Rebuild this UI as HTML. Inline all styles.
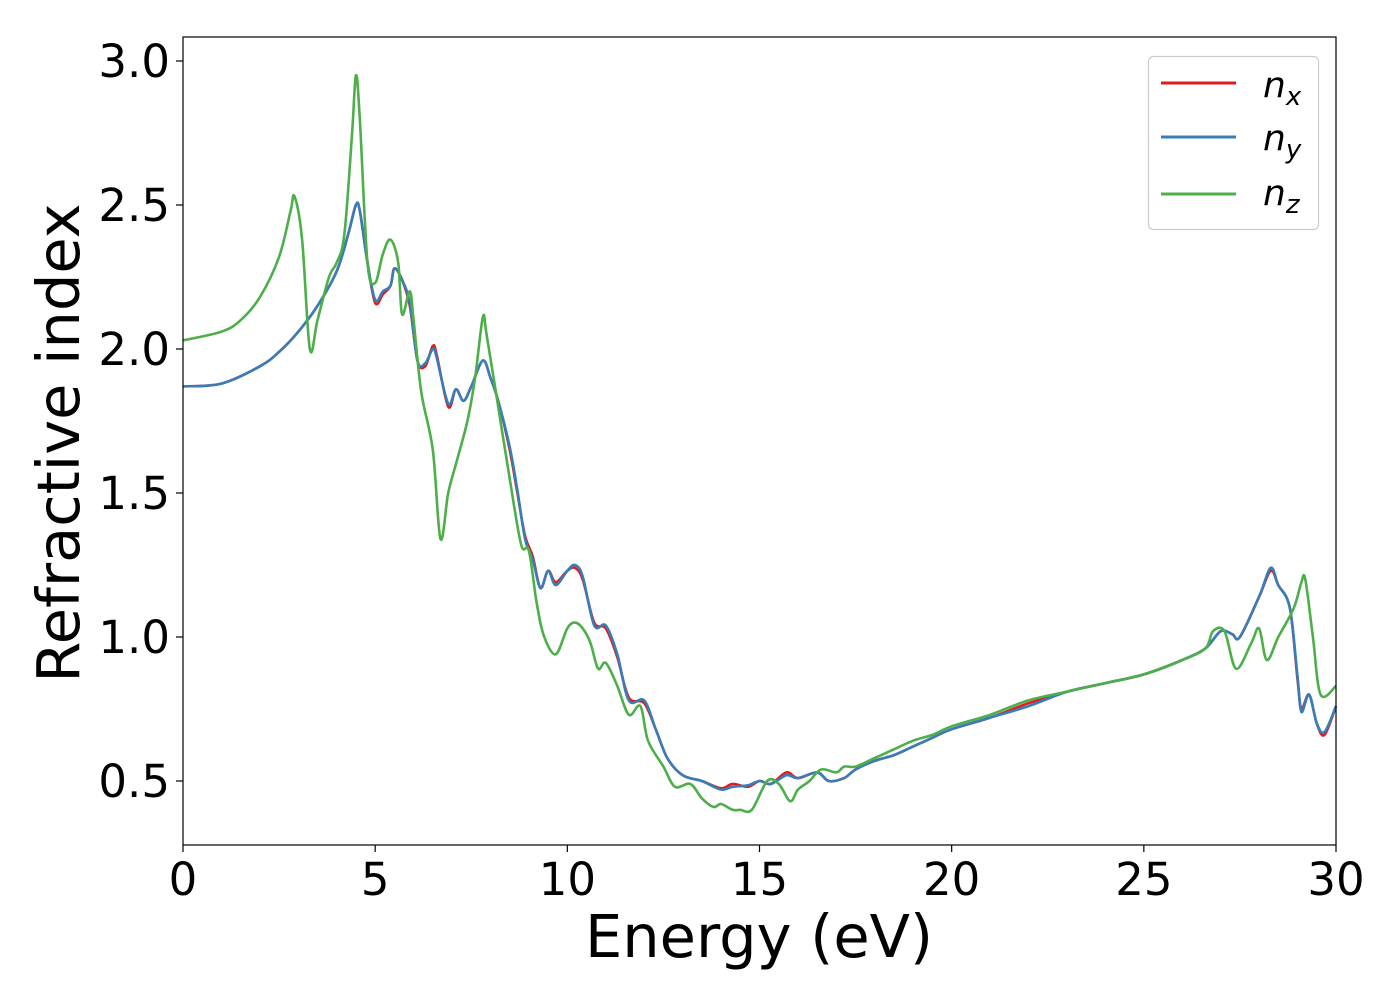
<!DOCTYPE html>
<html><head><meta charset="utf-8"><style>
html,body{margin:0;padding:0;background:#fff;}
svg{display:block;font-family:"DejaVu Sans","Liberation Sans",sans-serif;}
</style></head><body>
<svg id="chart" width="1400" height="1000" viewBox="0 0 1400 1000" xmlns="http://www.w3.org/2000/svg">
<rect width="1400" height="1000" fill="#fff"/>
<g id="ticks"></g>
<g id="series"></g>
<rect x="183" y="37" width="1153" height="808" fill="none" stroke="#000" stroke-width="1.2"/>
<text x="759" y="957" font-size="59" text-anchor="middle">Energy (eV)</text>
<text transform="translate(79,443) rotate(-90)" font-size="59" text-anchor="middle">Refractive index</text>
<g>
<rect x="1148.5" y="56.5" width="170" height="173" rx="5" fill="#fff" stroke="#ccc" stroke-width="1.2"/>
<line x1="1161" y1="83" x2="1236" y2="83" stroke="#e41a1c" stroke-width="3"/>
<line x1="1161" y1="137" x2="1236" y2="137" stroke="#377eb8" stroke-width="3"/>
<line x1="1161" y1="194" x2="1236" y2="194" stroke="#4daf4a" stroke-width="3"/>
<text x="1263" y="97" font-size="36" font-style="italic">n<tspan font-size="26" dy="8">x</tspan></text>
<text x="1263" y="150" font-size="36" font-style="italic">n<tspan font-size="26" dy="8">y</tspan></text>
<text x="1263" y="205" font-size="36" font-style="italic">n<tspan font-size="26" dy="8">z</tspan></text>
</g>
</svg>
<script>
const xTicks=[0,5,10,15,20,25,30];
const yTicks=[0.5,1.0,1.5,2.0,2.5,3.0];
const nxE=[0,1,2,2.5,3,3.5,4,4.3,4.5,4.6,4.8,5.0,5.2,5.4,5.5,5.7,5.9,6.1,6.3,6.5,6.6,6.9,7.1,7.3,7.5,7.8,8.0,8.2,8.5,8.7,8.9,9.1,9.3,9.5,9.7,10.0,10.2,10.4,10.7,11.0,11.3,11.6,12.0,12.3,12.6,13.0,13.5,14,14.3,14.7,15,15.3,15.7,16,16.5,16.8,17.2,17.5,18,18.5,19,19.5,20,21,22,23,24,25,26,26.6,27,27.3,27.5,28,28.3,28.5,28.8,29,29.1,29.3,29.5,29.7,30];
const nxV=[1.87,1.88,1.94,1.99,2.06,2.15,2.27,2.4,2.5,2.48,2.3,2.16,2.19,2.22,2.28,2.24,2.15,1.96,1.94,2.01,1.98,1.80,1.86,1.82,1.87,1.96,1.90,1.82,1.65,1.50,1.35,1.28,1.17,1.23,1.19,1.23,1.24,1.20,1.05,1.03,0.93,0.79,0.77,0.68,0.58,0.52,0.50,0.475,0.49,0.48,0.50,0.49,0.53,0.51,0.53,0.50,0.51,0.54,0.57,0.59,0.62,0.65,0.68,0.72,0.77,0.81,0.84,0.87,0.92,0.96,1.02,1.01,1.00,1.14,1.23,1.18,1.10,0.85,0.75,0.80,0.70,0.66,0.76];
const nyV=[1.87,1.88,1.94,1.99,2.06,2.15,2.27,2.4,2.5,2.48,2.3,2.17,2.2,2.22,2.28,2.24,2.16,1.96,1.95,2.0,1.97,1.81,1.86,1.82,1.87,1.96,1.90,1.82,1.66,1.51,1.34,1.27,1.17,1.23,1.18,1.23,1.25,1.21,1.04,1.04,0.94,0.78,0.78,0.68,0.58,0.52,0.50,0.47,0.48,0.485,0.50,0.49,0.52,0.51,0.53,0.50,0.51,0.54,0.57,0.59,0.62,0.65,0.68,0.72,0.76,0.81,0.84,0.87,0.92,0.96,1.02,1.01,1.00,1.14,1.24,1.18,1.10,0.86,0.74,0.80,0.70,0.67,0.76];
const nzE=[0,1,1.5,2,2.5,2.8,2.9,3.1,3.3,3.5,3.8,4.0,4.2,4.4,4.5,4.6,4.8,5.0,5.2,5.4,5.6,5.7,5.9,6.0,6.2,6.5,6.7,6.9,7.1,7.4,7.6,7.8,7.9,8.2,8.5,8.8,9.0,9.2,9.4,9.7,10.0,10.2,10.4,10.6,10.8,11.0,11.3,11.6,11.9,12.1,12.5,12.8,13.2,13.5,13.8,14.0,14.3,14.5,14.8,15.2,15.5,15.8,16,16.3,16.6,17,17.2,17.5,18,18.5,19,19.5,20,21,22,23,24,25,26,26.6,26.8,27.1,27.4,27.8,28,28.2,28.5,28.9,29.1,29.2,29.4,29.6,30];
const nzV=[2.03,2.06,2.10,2.18,2.32,2.48,2.53,2.38,2.0,2.1,2.25,2.30,2.40,2.75,2.95,2.80,2.30,2.23,2.33,2.38,2.30,2.12,2.20,2.10,1.85,1.65,1.34,1.50,1.60,1.75,1.90,2.11,2.05,1.80,1.55,1.32,1.30,1.12,1.00,0.94,1.03,1.05,1.03,0.98,0.89,0.91,0.83,0.73,0.76,0.64,0.55,0.48,0.49,0.44,0.41,0.42,0.40,0.40,0.40,0.50,0.49,0.43,0.47,0.50,0.54,0.53,0.55,0.55,0.58,0.61,0.64,0.66,0.69,0.73,0.78,0.81,0.84,0.87,0.92,0.96,1.02,1.02,0.89,0.98,1.03,0.92,1.00,1.10,1.19,1.20,1.00,0.80,0.83];

const NS="http://www.w3.org/2000/svg";
function xs(v){return 183+v*(1153/30);}
function ys(v){return 781-(v-0.5)*288;}
const tg=document.getElementById('ticks');
xTicks.forEach(t=>{
  const l=document.createElementNS(NS,'line');
  l.setAttribute('x1',xs(t));l.setAttribute('x2',xs(t));l.setAttribute('y1',845);l.setAttribute('y2',852);
  l.setAttribute('stroke','#000');l.setAttribute('stroke-width','1.2');
  
  
  tg.appendChild(l);
  const tx=document.createElementNS(NS,'text');
  tx.setAttribute('x',xs(t));tx.setAttribute('y',895);tx.setAttribute('font-size','45');tx.setAttribute('text-anchor','middle');
  tx.textContent=t;
  
  
  tg.appendChild(tx);
});
yTicks.forEach(t=>{
  const l=document.createElementNS(NS,'line');
  l.setAttribute('x1',176);l.setAttribute('x2',183);l.setAttribute('y1',ys(t));l.setAttribute('y2',ys(t));
  l.setAttribute('stroke','#000');l.setAttribute('stroke-width','1.2');
  
  
  tg.appendChild(l);
  const tx=document.createElementNS(NS,'text');
  tx.setAttribute('x',170);tx.setAttribute('y',ys(t)+16);tx.setAttribute('font-size','45');tx.setAttribute('text-anchor','end');
  tx.textContent=t.toFixed(1);
  
  
  tg.appendChild(tx);
});
function smooth(E,V){
  const p=E.map((e,i)=>[xs(e),ys(V[i])]);
  let d='M'+p[0][0].toFixed(1)+','+p[0][1].toFixed(1);
  for(let i=0;i<p.length-1;i++){
    const p0=p[Math.max(0,i-1)],p1=p[i],p2=p[i+1],p3=p[Math.min(p.length-1,i+2)];
    const c1=[p1[0]+(p2[0]-p0[0])/6,p1[1]+(p2[1]-p0[1])/6];
    const c2=[p2[0]-(p3[0]-p1[0])/6,p2[1]-(p3[1]-p1[1])/6];
    d+='C'+c1[0].toFixed(1)+','+c1[1].toFixed(1)+' '+c2[0].toFixed(1)+','+c2[1].toFixed(1)+' '+p2[0].toFixed(1)+','+p2[1].toFixed(1);
  }
  return d;
}
const sg=document.getElementById('series');
function addLine(E,V,color,name){
  const path=document.createElementNS(NS,'path');
  path.setAttribute('d',smooth(E,V));
  path.setAttribute('fill','none');path.setAttribute('stroke',color);path.setAttribute('stroke-width','2.6');
  path.setAttribute('stroke-linejoin','round');
  
  
  sg.appendChild(path);
}
addLine(nxE,nxV,'#e41a1c','series-nx');
addLine(nxE,nyV,'#377eb8','series-ny');
addLine(nzE,nzV,'#4daf4a','series-nz');
</script>
</body></html>
